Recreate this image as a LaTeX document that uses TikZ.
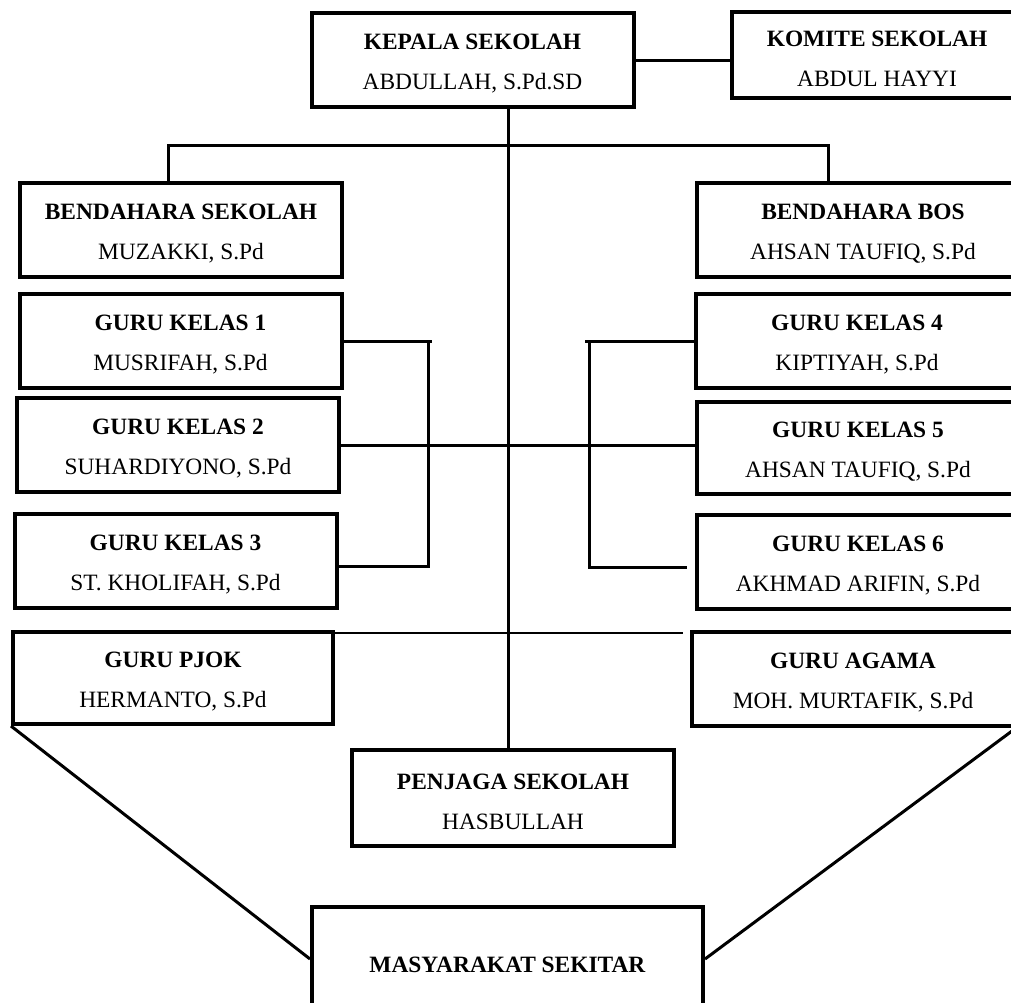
\documentclass[tikz,border=0pt]{standalone}
\usepackage{fontspec}
\setmainfont{Liberation Serif}
\newcommand{\jab}[2]{\rule{0pt}{11.5pt}\textbf{#1}\\#2}
\begin{document}
\begin{tikzpicture}[x=0.5pt, y=-0.5pt, line width=1.5pt,
    box/.style = {draw, line width=2pt, align=center, inner sep=0pt,
                  minimum width=161pt, minimum height=47pt,
                  font=\fontsize{11.7}{20}\selectfont}]
    \useasboundingbox (0,0) rectangle (1011,1002);
    \clip (0,0) rectangle (1011,1002);
    % Kotak-kotak jabatan

    \node[box] (kepala) at (472.5,60) {\jab{KEPALA SEKOLAH}{ABDULLAH, S.Pd.SD}};
    \node[box, minimum width=145pt, minimum height=43pt] (komite) at (877,55) {\jab{KOMITE SEKOLAH}{ABDUL HAYYI}};
    \node[box] (bendS) at (181,230) {\jab{BENDAHARA SEKOLAH}{MUZAKKI, S.Pd}};
    \node[box, minimum width=166pt] (bendB) at (863,230) {\jab{BENDAHARA BOS}{AHSAN TAUFIQ, S.Pd}};
    \node[box] (gk1) at (180.5,341) {\jab{GURU KELAS 1}{MUSRIFAH, S.Pd}};
    \node[box] (gk2) at (178,445) {\jab{GURU KELAS 2}{SUHARDIYONO, S.Pd}};
    \node[box] (gk3) at (175.5,560.5) {\jab{GURU KELAS 3}{ST. KHOLIFAH, S.Pd}};
    \node[box] (gk4) at (857,341) {\jab{GURU KELAS 4}{KIPTIYAH, S.Pd}};
    \node[box, minimum height=46pt] (gk5) at (858,448) {\jab{GURU KELAS 5}{AHSAN TAUFIQ, S.Pd}};
    \node[box] (gk6) at (858,561.5) {\jab{GURU KELAS 6}{AKHMAD ARIFIN, S.Pd}};
    \node[box, minimum width=160pt, minimum height=46pt] (pjok) at (173,678) {\jab{GURU PJOK}{HERMANTO, S.Pd}};
    \node[box] (agama) at (853,679) {\jab{GURU AGAMA}{MOH. MURTAFIK, S.Pd}};
    \node[box, minimum height=48pt] (penjaga) at (513,798) {\jab{PENJAGA SEKOLAH}{HASBULLAH}};
    \node[box, minimum width=195.5pt, minimum height=58pt] (masy) at (507.5,965) {\textbf{MASYARAKAT SEKITAR}};

    % Garis-garis penghubung
    \coordinate (trunk) at (508,145);
    \coordinate (busL) at (168,145);
    \coordinate (busR) at (828,145);
    \coordinate (brL) at (428,0);
    \coordinate (brR) at (589,0);

    \draw (kepala.east) -- (kepala.east -| komite.west);
    \draw (kepala.south -| trunk) -- (penjaga.north -| trunk);
    \draw (bendS.north -| busL) -- (busL) -- (busR) -- (bendB.north -| busR);

    \draw (gk1.east) -- ([xshift=2pt]gk1.east -| brL);
    \draw (gk1.east -| brL) -- ([yshift=-3pt]gk3.east -| brL) -- ([yshift=-3pt]gk3.east);
    \draw (gk2.east) -- (gk2.east -| gk5.west);
    \draw (gk4.west) -- ([xshift=-2pt]gk4.west -| brR);
    \draw (gk4.west -| brR) -- ([yshift=-3pt]gk6.west -| brR) -- ([xshift=-4pt,yshift=-3pt]gk6.west);

    \draw[line width=1.2pt] ([yshift=-1.5pt]pjok.north east) -- ([xshift=-3.5pt,yshift=-1.5pt]agama.north west);
    \draw (pjok.south west) -- ([yshift=3pt]masy.west);
    \draw (agama.south east) -- ([yshift=3pt]masy.east);

\end{tikzpicture}
\end{document}
